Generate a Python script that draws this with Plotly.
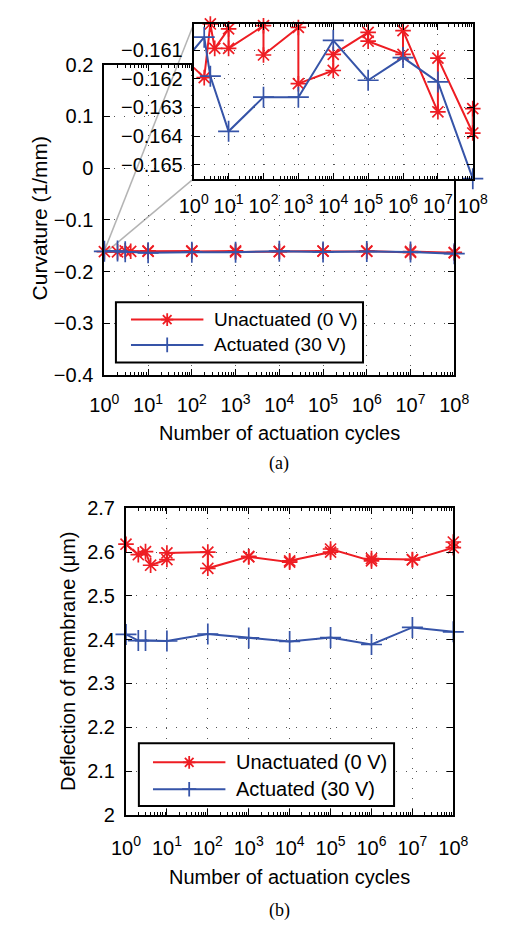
import math
import plotly.graph_objects as go

W, H = 505, 933

# ---- data -------------------------------------------------------------
# number of actuation cycles; repeated counts are repeated measurements
cycles_unact = [1, 2, 3, 4, 10, 10, 1e2, 1e2, 1e3, 1e3, 1e4, 1e4,
                1e5, 1e5, 1e6, 1e6, 1e7, 1e7, 1e8, 1e8]
cycles_act = [1, 2, 3, 10, 1e2, 1e3, 1e4, 1e5, 1e6, 1e7, 1e8]

# (a) curvature, 1/mm
curv_unact = [-0.16161, -0.16196, -0.16009, -0.16094, -0.16026, -0.16094,
              -0.16015, -0.16117, -0.16021, -0.16217, -0.16171, -0.16115,
              -0.16038, -0.16069, -0.16115, -0.16032, -0.16315, -0.16128,
              -0.16389, -0.16304]
curv_act = [-0.16099, -0.16055, -0.16191, -0.16383, -0.16264, -0.16264,
            -0.16066, -0.16205, -0.16126, -0.16211, -0.16548]

# (b) membrane deflection, um
defl_unact = [2.618, 2.594, 2.601, 2.570, 2.583, 2.598, 2.600, 2.563,
              2.590, 2.589, 2.577, 2.580, 2.600, 2.607, 2.580, 2.585,
              2.583, 2.582, 2.610, 2.623]
defl_act = [2.412, 2.398, 2.398, 2.397, 2.413, 2.404, 2.396, 2.405,
            2.389, 2.428, 2.418]

decade_vals = [1e0, 1e1, 1e2, 1e3, 1e4, 1e5, 1e6, 1e7, 1e8]
decade_text = ['10<sup>%d</sup>' % k for k in range(9)]
minor_vals = [k * 10 ** d for d in range(8) for k in range(2, 10)]
inset_ticks = [-0.161, -0.162, -0.163, -0.164, -0.165]
inset_text = ['\u22120.161', '\u22120.162', '\u22120.163', '\u22120.164', '\u22120.165']

name_unact = 'Unactuated (0 V)'
name_act = 'Actuated (30 V)'

RED = '#EE1D23'
BLUE = '#3654A8'
GRAY = '#B4B4B4'
FONT = 'Liberation Sans, Arial, Helvetica, sans-serif'
SERIF = 'Liberation Serif, Times New Roman, serif'

# ---- layout geometry (pixels) ------------------------------------------
MAIN_X, MAIN_Y = (95, 467), (55, 372.7)
INSET_X, INSET_Y = (190, 486.7), (13.3, 171.7)
B_X, B_Y = (118, 466), (509.3, 823.3)


def px(x):
    return x / W


def py(y):
    return 1 - y / H


def xdom(a):
    return [px(a[0]), px(a[1])]


def ydom(a):
    return [py(a[1]), py(a[0])]


MAIN_YR = [-0.4, 0.2]
LOGX_R = [0, 8]
INSET_XR = [0, 8]
all_curv = curv_unact + curv_act
INSET_YR = [min(all_curv), max(all_curv)]
B_YR = [2.0, 2.7]

star = dict(symbol='asterisk-open', size=13, color=RED,
            line=dict(color=RED, width=1.7))
plus = dict(symbol='cross-thin-open', size=15, color=BLUE,
            line=dict(color=BLUE, width=1.7))

fig = go.Figure()

# (a) main axes
fig.add_trace(go.Scatter(x=cycles_unact, y=curv_unact, mode='lines+markers',
                         line=dict(color=RED, width=2), marker=star,
                         cliponaxis=False, xaxis='x', yaxis='y'))
fig.add_trace(go.Scatter(x=cycles_act, y=curv_act, mode='lines+markers',
                         line=dict(color=BLUE, width=2), marker=plus,
                         cliponaxis=False, xaxis='x', yaxis='y'))


# (a) magnified inset: lines run from the frame, markers only past the left edge
def inside(xs, ys):
    keep = [(x, y) for x, y in zip(xs, ys) if math.log10(x) > INSET_XR[0] + 1e-6]
    return [k[0] for k in keep], [k[1] for k in keep]


for xs, ys, col, mk in [(cycles_unact, curv_unact, RED, star),
                        (cycles_act, curv_act, BLUE, plus)]:
    fig.add_trace(go.Scatter(x=xs, y=ys, mode='lines',
                             line=dict(color=col, width=2),
                             xaxis='x2', yaxis='y2'))
    ix, iy = inside(xs, ys)
    fig.add_trace(go.Scatter(x=ix, y=iy, mode='markers', marker=mk,
                             cliponaxis=False, xaxis='x2', yaxis='y2'))

# (b)
fig.add_trace(go.Scatter(x=cycles_unact, y=defl_unact, mode='lines+markers',
                         line=dict(color=RED, width=2), marker=star,
                         cliponaxis=False, xaxis='x3', yaxis='y3'))
fig.add_trace(go.Scatter(x=cycles_act, y=defl_act, mode='lines+markers',
                         line=dict(color=BLUE, width=2), marker=plus,
                         cliponaxis=False, xaxis='x3', yaxis='y3'))

axis_base = dict(showline=True, linecolor='black', linewidth=2,
                 mirror='allticks', ticks='inside', ticklen=6, tickwidth=1.2,
                 tickcolor='black', showgrid=True, gridcolor='#555555',
                 gridwidth=1, griddash='1px,9px', zeroline=False,
                 tickfont=dict(family=FONT, size=20, color='black'))

log_axis = dict(axis_base, type='log', tickmode='array', tickvals=decade_vals,
                ticktext=decade_text,
                minor=dict(tickmode='array', tickvals=minor_vals,
                           ticks='inside', ticklen=3, tickwidth=1,
                           tickcolor='black', showgrid=False))

fig.update_layout(
    width=W, height=H, margin=dict(l=0, r=0, t=0, b=0),
    paper_bgcolor='white', plot_bgcolor='white', showlegend=False,
    xaxis=dict(log_axis, domain=xdom(MAIN_X), range=LOGX_R, anchor='y',
               ticklabelstandoff=11),
    yaxis=dict(axis_base, domain=ydom(MAIN_Y), range=MAIN_YR, dtick=0.1,
               tick0=0, anchor='x', ticklabelstandoff=5),
    xaxis2=dict(log_axis, domain=xdom(INSET_X), range=INSET_XR, anchor='y2',
                ticklabelstandoff=8),
    yaxis2=dict(axis_base, domain=ydom(INSET_Y), range=INSET_YR,
                tickmode='array', tickvals=inset_ticks, ticktext=inset_text,
                anchor='x2', ticklabelstandoff=5),
    xaxis3=dict(log_axis, domain=xdom(B_X), range=LOGX_R, anchor='y3',
                ticklabelstandoff=14),
    yaxis3=dict(axis_base, domain=ydom(B_Y), range=B_YR, dtick=0.1, tick0=0,
                anchor='x3', ticklabelstandoff=5),
)

shapes = []


# connectors from the magnified region to the inset corners
def main_to_px(logx, yv):
    x = MAIN_X[0] + (logx - LOGX_R[0]) / (LOGX_R[1] - LOGX_R[0]) * (MAIN_X[1] - MAIN_X[0])
    y = MAIN_Y[1] - (yv - MAIN_YR[0]) / (MAIN_YR[1] - MAIN_YR[0]) * (MAIN_Y[1] - MAIN_Y[0])
    return x, y


sx, sy_top = main_to_px(0, INSET_YR[1])
_, sy_bot = main_to_px(0, INSET_YR[0])
for (x0, y0), (x1, y1) in [((sx, sy_top), (INSET_X[0], INSET_Y[0])),
                           ((sx, sy_bot), (INSET_X[0], INSET_Y[1]))]:
    shapes.append(dict(type='line', xref='paper', yref='paper', layer='below',
                       x0=px(x0), y0=py(y0), x1=px(x1), y1=py(y1),
                       line=dict(color=GRAY, width=1.5)))


def star_path(cx, cy, r):
    parts = []
    for ang in (0, 45, 90, 135):
        dx = r * math.cos(math.radians(ang))
        dy = r * math.sin(math.radians(ang))
        parts.append('M%.5f,%.5f L%.5f,%.5f' % (px(cx - dx), py(cy - dy),
                                                 px(cx + dx), py(cy + dy)))
    return ' '.join(parts)


def plus_path(cx, cy, r):
    return 'M%.5f,%.5f L%.5f,%.5f M%.5f,%.5f L%.5f,%.5f' % (
        px(cx - r), py(cy), px(cx + r), py(cy),
        px(cx), py(cy - r), px(cx), py(cy + r))


annotations = []


def add_legend(box, x_line, rows, size):
    x0, y0, x1, y1 = box
    shapes.append(dict(type='rect', xref='paper', yref='paper', layer='above',
                       x0=px(x0), y0=py(y0), x1=px(x1), y1=py(y1),
                       fillcolor='white', line=dict(color='black', width=2)))
    for (label, col, kind, yc) in rows:
        shapes.append(dict(type='line', xref='paper', yref='paper', layer='above',
                           x0=px(x_line), x1=px(x_line + 77), y0=py(yc), y1=py(yc),
                           line=dict(color=col, width=2)))
        cx = x_line + 38.5
        path = star_path(cx, yc, 6.5) if kind == 'star' else plus_path(cx, yc, 7.5)
        shapes.append(dict(type='path', xref='paper', yref='paper', layer='above',
                           path=path, line=dict(color=col, width=1.8)))
        annotations.append(dict(text=label, xref='paper', yref='paper',
                                x=px(x_line + 86), y=py(yc), xanchor='left',
                                yanchor='middle', showarrow=False,
                                font=dict(family=FONT, size=size, color='black')))


add_legend((107.3, 298.3, 370, 360), 123.3,
           [(name_unact, RED, 'star', 316), (name_act, BLUE, 'plus', 342)], 19)
add_legend((131.7, 750, 403, 814.3), 146.7,
           [(name_unact, RED, 'star', 769.5), (name_act, BLUE, 'plus', 797)], 20)


def text(t, x, y, size=20, family=FONT, angle=0):
    annotations.append(dict(text=t, xref='paper', yref='paper', x=px(x), y=py(y),
                            xanchor='center', yanchor='middle', showarrow=False,
                            textangle=angle,
                            font=dict(family=family, size=size, color='black')))


text('Curvature (1/mm)', 26, 212, size=21, angle=-90)
text('Number of actuation cycles', 281, 432)
text('(a)', 281, 463, size=18, family=SERIF)
text('Deflection of membrane (\u03bcm)', 57, 666, angle=-90)
text('Number of actuation cycles', 292, 887)
text('(b)', 281, 921.5, size=18, family=SERIF)

fig.update_layout(shapes=shapes, annotations=annotations)

fig.write_html('out.html')
